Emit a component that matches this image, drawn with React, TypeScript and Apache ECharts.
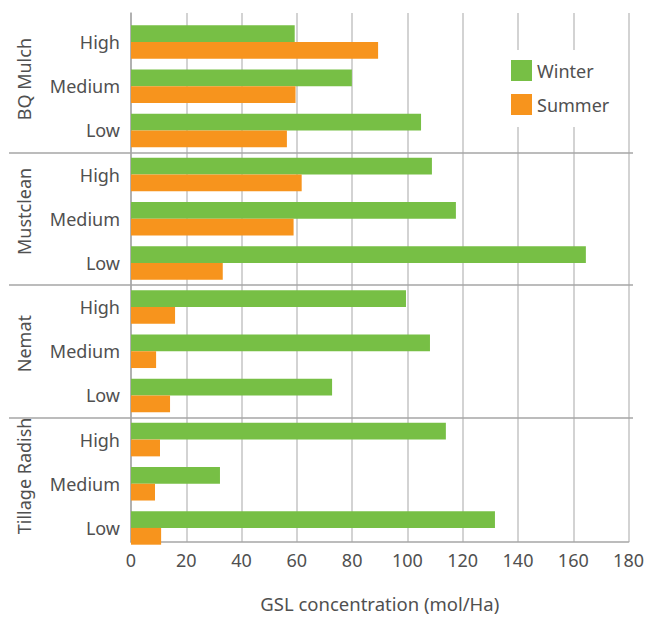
import React, { useEffect, useRef } from "react";
import * as echarts from "echarts";

const groups = ["BQ Mulch", "Mustclean", "Nemat", "Tillage Radish"];
const levels = ["High", "Medium", "Low"];
const seriesNames = ["Winter", "Summer"];
const winter = [58.7, 79.2, 104.0, 107.9, 116.5, 163.1, 98.6, 107.2, 72.1, 112.9, 31.9, 130.5];
const summer = [88.6, 59.0, 55.9, 61.2, 58.3, 32.9, 15.8, 9.0, 14.0, 10.4, 8.6, 10.8];
const xMin = 0;
const xMax = 180;
const xStep = 20;
const xTitle = "GSL concentration (mol/Ha)";

const GREEN = "#77bf45";
const ORANGE = "#f7941d";
const TEXT = "#505050";
const FONT = "Noto Sans";

export default function App() {
  const ref = useRef<HTMLDivElement>(null);
  useEffect(() => {
    if (!ref.current) return;
    const chart = echarts.init(ref.current, undefined, { renderer: "svg" });
    const categories = groups.flatMap((g) => levels.map((l) => `${g}|${l}`));
    const separators = groups.slice(1).map((_, i) => ({ yAxis: (i + 1) * levels.length }));
    chart.setOption({
      animation: false,
      textStyle: { fontFamily: FONT, color: TEXT },
      grid: [
        { left: 131, right: 14, top: 13, height: 542 },
        { left: 131, right: 14, top: 20, height: 530 },
        { left: 9, right: 14, top: 20, height: 530 },
      ],
      legend: {
        data: seriesNames,
        orient: "vertical",
        left: 500,
        top: 50,
        padding: [10, 10, 12, 11],
        backgroundColor: "#ffffff",
        itemWidth: 21,
        itemHeight: 21,
        itemGap: 13,
        icon: "rect",
        textStyle: { fontFamily: FONT, fontSize: 18, color: TEXT },
      },
      xAxis: [
        {
          type: "value",
          gridIndex: 0,
          min: xMin,
          max: xMax,
          interval: xStep,
          name: xTitle,
          nameLocation: "middle",
          nameGap: 52,
          nameTextStyle: { fontFamily: FONT, fontSize: 18.5, color: TEXT },
          axisLine: { show: true, lineStyle: { color: "#a6a6a6", width: 1.5 } },
          axisTick: { show: false },
          axisLabel: { fontFamily: FONT, fontSize: 18, color: TEXT, margin: 9 },
          splitLine: { show: true, lineStyle: { color: "#c4c4c4", width: 1.5 } },
        },
        { type: "value", gridIndex: 1, min: xMin, max: xMax, show: false },
        { type: "value", gridIndex: 2, min: 0, max: 1, show: false },
      ],
      yAxis: [
        {
          type: "category",
          gridIndex: 0,
          data: groups,
          inverse: true,
          axisLine: { show: true, lineStyle: { color: "#a6a6a6", width: 1.5 } },
          axisTick: { show: false },
          splitLine: { show: false },
          axisLabel: {
            rotate: 90,
            margin: 98,
            interval: 0,
            fontFamily: FONT,
            fontSize: 18,
            color: TEXT,
          },
        },
        {
          type: "category",
          gridIndex: 1,
          data: categories,
          inverse: true,
          axisLine: { show: false },
          axisTick: { show: false },
          splitLine: { show: false },
          axisLabel: {
            interval: 0,
            margin: 11,
            fontFamily: FONT,
            fontSize: 18,
            color: TEXT,
            formatter: (v: string) => v.split("|")[1],
          },
        },
        {
          type: "value",
          gridIndex: 2,
          min: 0,
          max: categories.length,
          inverse: true,
          show: false,
        },
      ],
      series: [
        {
          name: seriesNames[0],
          type: "bar",
          xAxisIndex: 1,
          yAxisIndex: 1,
          data: winter,
          itemStyle: { color: GREEN },
          barGap: "0%",
          barCategoryGap: "24%",
        },
        {
          name: seriesNames[1],
          type: "bar",
          xAxisIndex: 1,
          yAxisIndex: 1,
          data: summer,
          itemStyle: { color: ORANGE },
          barGap: "0%",
          barCategoryGap: "24%",
        },
        {
          type: "line",
          xAxisIndex: 2,
          yAxisIndex: 2,
          data: [],
          silent: true,
          markLine: {
            silent: true,
            symbol: "none",
            label: { show: false },
            lineStyle: { color: "#a6a6a6", width: 1.5, type: "solid" },
            data: separators,
          },
        },
      ],
    });
    return () => chart.dispose();
  }, []);
  return (
    <div
      ref={ref}
      style={{ position: "fixed", left: 0, top: 0, width: 647, height: 618, background: "#fff" }}
    />
  );
}
